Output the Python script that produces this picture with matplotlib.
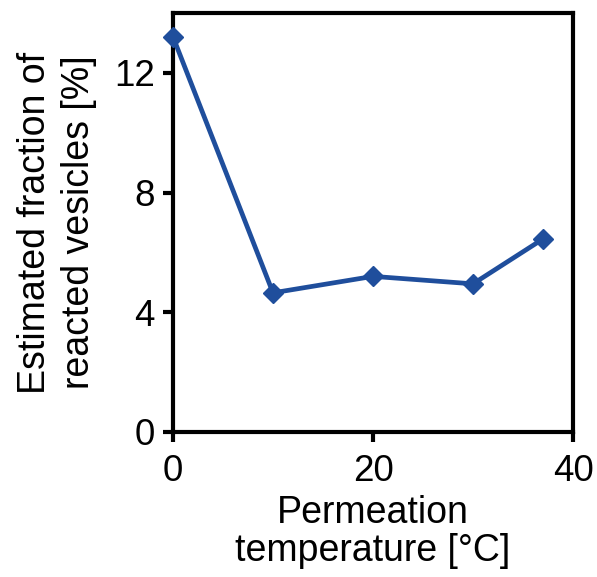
import matplotlib
matplotlib.use("Agg")
import matplotlib.pyplot as plt

temperature = [0, 10, 20, 30, 37]
fraction = [13.2, 4.65, 5.2, 4.95, 6.45]
xticks = [0, 20, 40]
yticks = [0, 4, 8, 12]

plt.rcParams['font.family'] = ['Liberation Sans', 'DejaVu Sans']

fig = plt.figure(figsize=(5.97, 5.77), dpi=100)
ax = fig.add_axes([0.2898, 0.2513, 0.67, 0.7262])
color = '#1f4e9c'
ax.plot(temperature, fraction, color=color, lw=3.4, marker='D', ms=10.5,
        mfc=color, mec=color, clip_on=False, zorder=3)
ax.set_xlim(0, 40)
ax.set_ylim(0, 14)
ax.set_xticks(xticks)
ax.set_yticks(yticks)
for s in ax.spines.values():
    s.set_linewidth(3)
ax.tick_params(direction='out', length=7, width=3, labelsize=26.5)
ax.tick_params(axis='x', pad=9)
ax.tick_params(axis='y', pad=6)
ax.set_xlabel('Permeation\ntemperature [°C]', fontsize=27, linespacing=1.08, labelpad=4)
ax.set_ylabel('Estimated fraction of\nreacted vesicles [%]', fontsize=27, linespacing=1.3, labelpad=12)
fig.savefig('out.png', dpi=100)
